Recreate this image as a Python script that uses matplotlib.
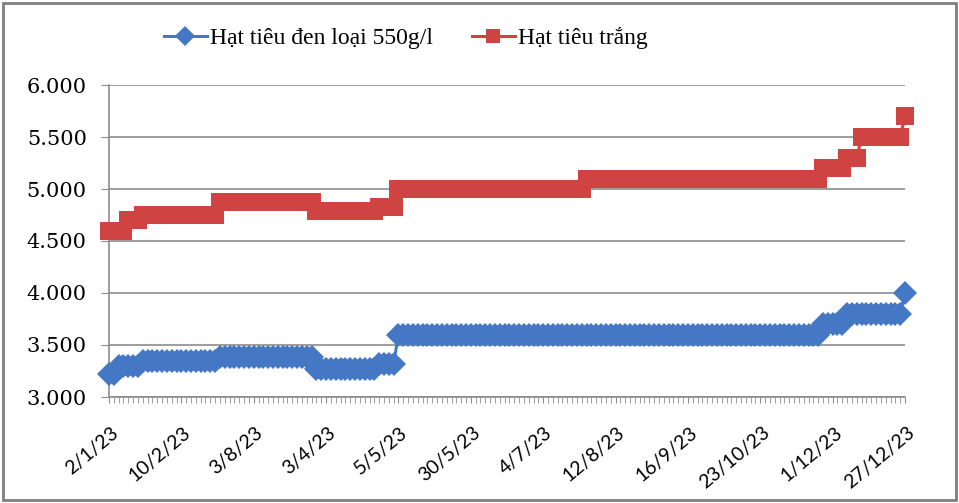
import numpy as np
import matplotlib
matplotlib.use("Agg")
import matplotlib.pyplot as plt
import matplotlib.transforms as mtransforms
from matplotlib.patches import Rectangle

# gia tieu xuat khau 2023 (USD/tan), doc tu bieu do
tieu_den = [
    3220, 3220, 3300, 3300, 3300, 3300, 3300, 3350, 3350, 3350,
    3350, 3350, 3350, 3350, 3350, 3350, 3350, 3350, 3350, 3350,
    3350, 3350, 3350, 3380, 3380, 3380, 3380, 3380, 3380, 3380,
    3380, 3380, 3380, 3380, 3380, 3380, 3380, 3380, 3380, 3380,
    3380, 3380, 3380, 3270, 3270, 3270, 3270, 3270, 3270, 3270,
    3270, 3270, 3270, 3270, 3270, 3270, 3320, 3320, 3320, 3320,
    3600, 3600, 3600, 3600, 3600, 3600, 3600, 3600, 3600, 3600,
    3600, 3600, 3600, 3600, 3600, 3600, 3600, 3600, 3600, 3600,
    3600, 3600, 3600, 3600, 3600, 3600, 3600, 3600, 3600, 3600,
    3600, 3600, 3600, 3600, 3600, 3600, 3600, 3600, 3600, 3600,
    3600, 3600, 3600, 3600, 3600, 3600, 3600, 3600, 3600, 3600,
    3600, 3600, 3600, 3600, 3600, 3600, 3600, 3600, 3600, 3600,
    3600, 3600, 3600, 3600, 3600, 3600, 3600, 3600, 3600, 3600,
    3600, 3600, 3600, 3600, 3600, 3600, 3600, 3600, 3600, 3600,
    3600, 3600, 3600, 3600, 3600, 3600, 3600, 3600, 3700, 3700,
    3700, 3700, 3700, 3800, 3800, 3800, 3800, 3800, 3800, 3800,
    3800, 3800, 3800, 3800, 3800, 4000,
]
tieu_trang = [
    4600, 4600, 4600, 4600, 4700, 4700, 4700, 4750, 4750, 4750,
    4750, 4750, 4750, 4750, 4750, 4750, 4750, 4750, 4750, 4750,
    4750, 4750, 4750, 4875, 4875, 4875, 4875, 4875, 4875, 4875,
    4875, 4875, 4875, 4875, 4875, 4875, 4875, 4875, 4875, 4875,
    4875, 4875, 4875, 4785, 4785, 4785, 4785, 4785, 4785, 4785,
    4785, 4785, 4785, 4785, 4785, 4785, 4825, 4825, 4825, 4825,
    5000, 5000, 5000, 5000, 5000, 5000, 5000, 5000, 5000, 5000,
    5000, 5000, 5000, 5000, 5000, 5000, 5000, 5000, 5000, 5000,
    5000, 5000, 5000, 5000, 5000, 5000, 5000, 5000, 5000, 5000,
    5000, 5000, 5000, 5000, 5000, 5000, 5000, 5000, 5000, 5100,
    5100, 5100, 5100, 5100, 5100, 5100, 5100, 5100, 5100, 5100,
    5100, 5100, 5100, 5100, 5100, 5100, 5100, 5100, 5100, 5100,
    5100, 5100, 5100, 5100, 5100, 5100, 5100, 5100, 5100, 5100,
    5100, 5100, 5100, 5100, 5100, 5100, 5100, 5100, 5100, 5100,
    5100, 5100, 5100, 5100, 5100, 5100, 5100, 5100, 5200, 5200,
    5200, 5200, 5200, 5300, 5300, 5300, 5500, 5500, 5500, 5500,
    5500, 5500, 5500, 5500, 5500, 5700,
]
ngay_labels = ["2/1/23", "10/2/23", "3/8/23", "3/4/23", "5/5/23", "30/5/23",
               "4/7/23", "12/8/23", "16/9/23", "23/10/23", "1/12/23", "27/12/23"]
ngay_pos = [0, 15, 30, 45, 60, 75, 90, 105, 120, 135, 150, 165]
y_ticks = [3000, 3500, 4000, 4500, 5000, 5500, 6000]

blue = '#4477c4'
red = '#d04343'
grid_c = '#8c8c8c'

fig = plt.figure(figsize=(9.59, 5.03), dpi=100)
ax = fig.add_axes([109/959, 1 - 397/503, 796/959, 312/503])

x = np.arange(len(tieu_den))
ax.plot(x, tieu_den, color=blue, lw=2.2, marker='D', markersize=12.5,
        markeredgewidth=0, label='Hạt tiêu đen loại 550g/l', zorder=3, clip_on=False)
ax.plot(x, tieu_trang, color=red, lw=2.2, marker='s', markersize=13,
        markeredgewidth=0, label='Hạt tiêu trắng', zorder=3, clip_on=False)

ax.set_xlim(0, len(tieu_den) - 1)
ax.set_ylim(3000, 6000)
ax.set_yticks(y_ticks)
ax.set_yticklabels([f"{v:,}".replace(",", ".") for v in y_ticks],
                   fontfamily='DejaVu Serif', fontsize=15)
ax.yaxis.grid(True, color=grid_c, lw=1.2)
ax.set_axisbelow(True)

ax.set_xticks(ngay_pos)
ax.set_xticklabels(ngay_labels, rotation=40, ha='right', va='center',
                   rotation_mode='anchor', fontfamily='Lato', fontsize=14)
ax.set_xticks(x, minor=True)
ax.tick_params(axis='x', which='both', length=4, color=grid_c, pad=20)
ax.tick_params(axis='y', length=6, color=grid_c, pad=10)
off = mtransforms.ScaledTranslation(7/100, 0, fig.dpi_scale_trans)
for lab in ax.get_xticklabels():
    lab.set_transform(lab.get_transform() + off)

for s in ['top', 'right']:
    ax.spines[s].set_visible(False)
for s in ['left', 'bottom']:
    ax.spines[s].set_color(grid_c)
    ax.spines[s].set_linewidth(1.2)

leg = fig.legend(loc='center', bbox_to_anchor=(406/959, 1 - 38/503), ncol=2,
                 frameon=False, handlelength=1.8, columnspacing=1.65,
                 handletextpad=0.15, markerscale=0.8,
                 prop={'family': 'Liberation Serif', 'size': 17})

fig.patches.append(Rectangle((3/959, 3/503), 953/959, 497/503, transform=fig.transFigure,
                             fill=False, edgecolor='#7f7f7f', lw=2))

fig.savefig('out.png', dpi=100)
